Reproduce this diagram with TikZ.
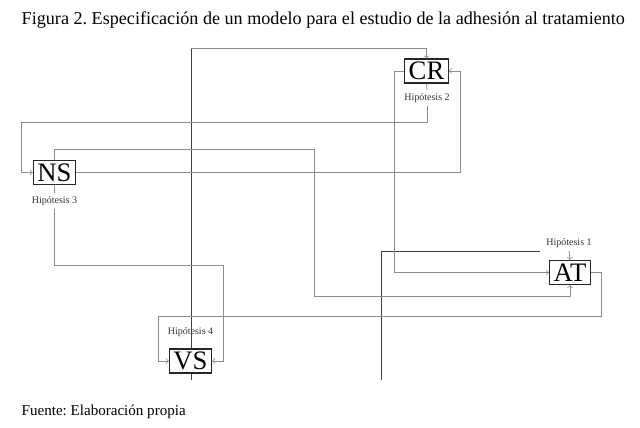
\documentclass[tikz,border=0pt]{standalone}
\usepackage{fontspec}
\setmainfont{Liberation Serif}
\frenchspacing
\begin{document}
\begin{tikzpicture}[x = .75pt, y = -.75pt,
        var/.style = {draw = black!85, line width = .9, fill = white, inner xsep = 3pt, inner ysep = 1pt, minimum height = 18pt, font = \fontsize{20}{20}\selectfont},
        hip/.style = {inner sep = 2.5pt, font = \fontsize{7.5}{8}\selectfont, text = black!80},
        link/.style = {line width = .6, black!45, ->},
        dark/.style = {line width = .7, black!75}]
        \useasboundingbox (0, 0) rectangle (640, 428);
        \node [anchor = base west, font = \fontsize{13.6}{15}\selectfont] (title) at (17, 25) {Figura 2. Especificación de un modelo para el estudio de la adhesión al tratamiento};
        \node [anchor = base west, font = \fontsize{11.3}{13}\selectfont] (source) at (17, 415) {Fuente: Elaboración propia};
        \coordinate (vsbot) at (191, 380);
        \coordinate (vstop) at (191, 48);
        \coordinate (h1bot) at (381, 380);
        \coordinate (h1end) at (540, 251);
        \draw [dark] (vsbot) -- (vstop);
        \draw [dark] (h1bot) |- (h1end);
        \node [var] (cr) at (426.5, 71) {CR};
        \node [var] (ns) at (54.5, 172.5) {NS};
        \node [var] (at) at (570, 272.5) {AT};
        \node [var] (vs) at (190.5, 361) {VS};
        \node [hip] (h2) at (427, 98) {Hipótesis 2};
        \node [hip] (h3) at (54.5, 201) {Hipótesis 3};
        \node [hip] (h1) at (569, 243) {Hipótesis 1};
        \node [hip] (h4) at (190.5, 332) {Hipótesis 4};
        \draw [link] (vstop) -| (cr.north);
        \draw [link, -] (cr.south) -- (h2.north);
        \draw [link] (h2.south) |- (21, 122) |- (ns.west);
        \draw [link] (ns.east) -| (460, 71) -- (cr.east);
        \draw [link] (cr.west) -- ++(-10, 0) |- (at.west);
        \draw [link] (ns.north) |- (314, 149) |- (570, 296) -- (at.south);
        \draw [link] (h1.south) -- (at.north);
        \draw [link, -] (ns.south) -- (h3.north);
        \draw [link] (h3.south) |- (223, 265) |- (vs.east);
        \draw [link] (at.east) -| (601, 316) -| (158, 361) -- (vs.west);
    \end{tikzpicture}
\end{document}
